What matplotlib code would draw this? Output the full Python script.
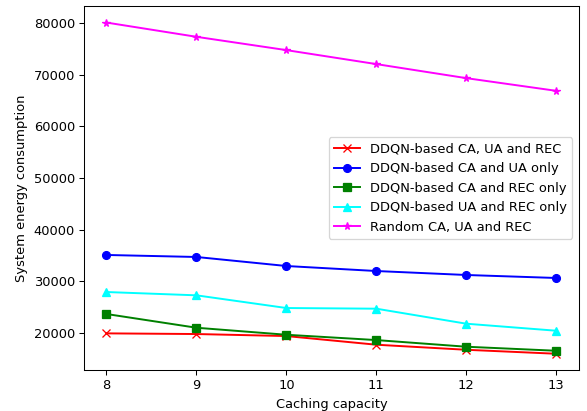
import matplotlib
matplotlib.use('Agg')
import matplotlib.pyplot as plt

capacity = [8, 9, 10, 11, 12, 13]

ddqn_all = [19880, 19750, 19360, 17680, 16700, 15930]
ddqn_ca_ua = [35070, 34680, 32930, 31960, 31190, 30610]
ddqn_ca_rec = [23630, 20970, 19610, 18580, 17290, 16510]
ddqn_ua_rec = [27890, 27250, 24790, 24660, 21750, 20390]
random_all = [80100, 77340, 74760, 72050, 69330, 66870]

dpi = 93.5
fig, ax = plt.subplots(figsize=(587 / dpi, 411 / dpi), dpi=dpi)
fig.subplots_adjust(left=0.1431, right=0.986, top=0.9854, bottom=0.099)

ax.plot(capacity, ddqn_all, color='red', marker='x', label='DDQN-based CA, UA and REC')
ax.plot(capacity, ddqn_ca_ua, color='blue', marker='o', label='DDQN-based CA and UA only')
ax.plot(capacity, ddqn_ca_rec, color='green', marker='s', label='DDQN-based CA and REC only')
ax.plot(capacity, ddqn_ua_rec, color='cyan', marker='^', label='DDQN-based UA and REC only')
ax.plot(capacity, random_all, color='magenta', marker='*', label='Random CA, UA and REC')

ax.set_xlabel('Caching capacity')
ax.set_ylabel('System energy consumption')
ax.legend(loc='center right')

plt.savefig('out.png', dpi=dpi)
